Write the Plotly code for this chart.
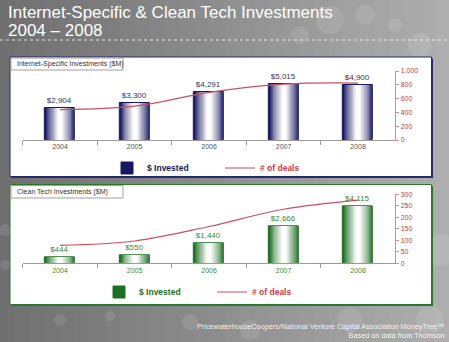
import plotly.graph_objects as go

# ---------------- data ----------------
years = ["2004", "2005", "2006", "2007", "2008"]
internet_invested = [2904, 3300, 4291, 5015, 4900]
internet_deals = [440, 490, 690, 810, 825]
clean_invested = [444, 550, 1440, 2666, 4115]
clean_deals = [78, 97, 160, 235, 275]
deal_ticks_internet = [0, 200, 400, 600, 800, 1000]
deal_ticks_clean = [0, 50, 100, 150, 200, 250, 300]

W, H = 449, 342
FONT = "Liberation Sans, Arial, sans-serif"
NAVY = (24, 24, 96)
GREEN = (30, 110, 35)
RED_LINE = "#c9505e"
RED_TXT = "#d0384a"


def px(x):
    return x / W


def py(y):
    return 1 - y / H


def mix(c, t):
    r, g, b = [int(round(v + (255 - v) * t)) for v in c]
    return f"rgb({r},{g},{b})"


# gradient layers: (width, lightness)
NL = 16
layers = []
for k in range(NL):
    f = k / (NL - 1)
    w = 0.40 * (1 - f) + 0.03 * f
    t = min(1.0, (f ** 0.8) * 1.05)
    layers.append((w, t))

fig = go.Figure()


def add_bars(vals, base, xa, ya, legend, txtcolor):
    for i, (w, t) in enumerate(layers):
        fig.add_trace(go.Bar(
            x=years, y=vals, width=w, xaxis=xa, yaxis=ya,
            marker=dict(color=mix(base, t),
                        line=dict(width=1 if i == 0 else 0, color=mix(base, 0))),
            name="$ Invested", showlegend=(i == 0), legend=legend,
            texttemplate="%{y:$,.0f}" if i == 0 else None,
            textposition="outside" if i == 0 else "none",
            textfont=dict(size=8, color=txtcolor, family=FONT),
            cliponaxis=False, hoverinfo="skip",
        ))


add_bars(internet_invested, NAVY, "x", "y", "legend", "#333355")
fig.add_trace(go.Scatter(x=years, y=internet_deals, xaxis="x", yaxis="y2", mode="lines",
                         line=dict(color=RED_LINE, width=1.2, shape="spline"),
                         name="# of deals", legend="legend"))
add_bars(clean_invested, GREEN, "x3", "y3", "legend2", "#3a8a3a")
fig.add_trace(go.Scatter(x=years, y=clean_deals, xaxis="x3", yaxis="y4", mode="lines",
                         line=dict(color=RED_LINE, width=1.2, shape="spline"),
                         name="# of deals", legend="legend2"))

xdom = [px(22.8), px(395.3)]

# background gradient strips
shapes = []
N = 30
for i in range(N):
    t = i / (N - 1)
    g = int(112 + 62 * t)
    shapes.append(dict(type="rect", xref="paper", yref="paper", x0=i / N, x1=(i + 1) / N + 0.002,
                       y0=0, y1=1, fillcolor=f"rgb({g},{g},{g})", line=dict(width=0), layer="below"))
# faint bokeh circles
for cx, cy, r in [(330, 20, 14), (365, 15, 10), (300, 35, 9), (420, 45, 12), (395, 25, 7),
                  (440, 250, 16), (430, 320, 14), (350, 320, 12), (250, 330, 10), (60, 320, 6),
                  (110, 316, 5), (190, 322, 8), (5, 230, 6), (5, 265, 5)]:
    shapes.append(dict(type="circle", xref="paper", yref="paper", x0=px(cx - r), x1=px(cx + r),
                       y0=py(cy + r), y1=py(cy - r), fillcolor="rgba(255,255,255,0.10)",
                       line=dict(width=0), layer="below"))
# dotted title rule
shapes.append(dict(type="line", xref="paper", yref="paper", x0=0, x1=1, y0=py(40), y1=py(40),
                   line=dict(color="rgba(255,255,255,0.8)", width=1, dash="dot"), layer="below"))


def panel(x0, y0, x1, y1, col):
    shapes.append(dict(type="rect", xref="paper", yref="paper", x0=px(x0 + 1.5), x1=px(x1 + 1.5),
                       y0=py(y1 + 1.5), y1=py(y0 + 1.5), fillcolor=col, line=dict(width=0), layer="below"))
    shapes.append(dict(type="rect", xref="paper", yref="paper", x0=px(x0), x1=px(x1),
                       y0=py(y1), y1=py(y0), fillcolor="white", line=dict(color=col, width=1), layer="below"))


def labelbox(x0, y0, x1, y1):
    shapes.append(dict(type="rect", xref="paper", yref="paper", x0=px(x0), x1=px(x1),
                       y0=py(y1), y1=py(y0), fillcolor="white", line=dict(color="#a0a0a0", width=1),
                       layer="below"))


panel(10, 57, 431.5, 176.5, "rgb(40,40,110)")
labelbox(11, 58, 123, 70)
panel(10, 184.5, 431.5, 304.5, "rgb(40,120,45)")
labelbox(11, 185.5, 123, 198)

annotations = [
    dict(text="Internet-Specific & Clean Tech Investments", x=px(6), y=py(12), xref="paper", yref="paper",
         xanchor="left", yanchor="middle", showarrow=False, font=dict(size=17, color="white", family=FONT)),
    dict(text="2004 – 2008", x=px(6), y=py(30), xref="paper", yref="paper",
         xanchor="left", yanchor="middle", showarrow=False, font=dict(size=17, color="white", family=FONT)),
    dict(text="Internet-Specific Investments ($M)", x=px(15), y=py(64), xref="paper", yref="paper",
         xanchor="left", yanchor="middle", showarrow=False, font=dict(size=7, color="#333", family=FONT)),
    dict(text="Clean Tech Investments ($M)", x=px(15), y=py(192), xref="paper", yref="paper",
         xanchor="left", yanchor="middle", showarrow=False, font=dict(size=7, color="#333", family=FONT)),
    dict(text="PricewaterhouseCoopers/National Venture Capital Association MoneyTree™<br>Based on data from Thomson",
         x=px(447), y=py(331), xref="paper", yref="paper", xanchor="right", yanchor="middle", align="right",
         showarrow=False, font=dict(size=7.3, color="rgba(255,255,255,0.9)", family=FONT)),
]

xcommon = dict(type="category", domain=xdom, range=[-0.5, 4.5], showgrid=False, showline=True,
               linecolor="#9a9a9a", linewidth=1, ticks="outside", tickson="boundaries", ticklen=4,
               tickcolor="#9a9a9a", zeroline=False, fixedrange=True)

fig.update_layout(
    template="none",
    width=W, height=H, margin=dict(l=0, r=0, t=0, b=0),
    paper_bgcolor="rgb(140,140,140)", plot_bgcolor="rgba(0,0,0,0)",
    barmode="overlay", bargap=0, showlegend=True,
    font=dict(family=FONT),
    shapes=shapes, annotations=annotations,
    xaxis=dict(**xcommon, anchor="y", tickfont=dict(size=7, color="#555", family=FONT)),
    yaxis=dict(domain=[py(140), py(71)], range=[0, 6200], visible=False, fixedrange=True),
    yaxis2=dict(overlaying="y", anchor="x", side="right", range=[0, 1000], tickvals=deal_ticks_internet,
                tickformat=",", showgrid=False, showline=True, linecolor="#d88a94", ticks="outside",
                ticklen=3, tickcolor="#d88a94", tickfont=dict(size=7, color=RED_TXT, family=FONT),
                zeroline=False, fixedrange=True),
    xaxis3=dict(**xcommon, anchor="y3", tickfont=dict(size=7, color="#3a8a3a", family=FONT)),
    yaxis3=dict(domain=[py(263.3), py(194.3)], range=[0, 5000], visible=False, fixedrange=True),
    yaxis4=dict(overlaying="y3", anchor="x3", side="right", range=[0, 300], tickvals=deal_ticks_clean,
                showgrid=False, showline=True, linecolor="#d88a94", ticks="outside",
                ticklen=3, tickcolor="#d88a94", tickfont=dict(size=7, color=RED_TXT, family=FONT),
                zeroline=False, fixedrange=True),
    legend=dict(orientation="h", x=px(107), y=py(168), xanchor="left", yanchor="middle",
                bgcolor="rgba(0,0,0,0)", entrywidth=68, entrywidthmode="pixels", itemwidth=30,
                font=dict(size=8.5, family=FONT)),
    legend2=dict(orientation="h", x=px(99), y=py(292), xanchor="left", yanchor="middle",
                 bgcolor="rgba(0,0,0,0)", entrywidth=68, entrywidthmode="pixels", itemwidth=30,
                 font=dict(size=8.5, family=FONT)),
)

for tr in fig.data:
    if tr.showlegend is not False and tr.type == "bar" and tr.legend == "legend":
        tr.name = "<b><span style='color:rgb(24,24,96)'>$ Invested</span></b>"
    elif tr.showlegend is not False and tr.type == "bar" and tr.legend == "legend2":
        tr.name = "<b><span style='color:rgb(30,110,35)'>$ Invested</span></b>"
    elif tr.type == "scatter":
        tr.name = f"<b><span style='color:{RED_TXT}'># of deals</span></b>"

fig.write_html("out.html")
